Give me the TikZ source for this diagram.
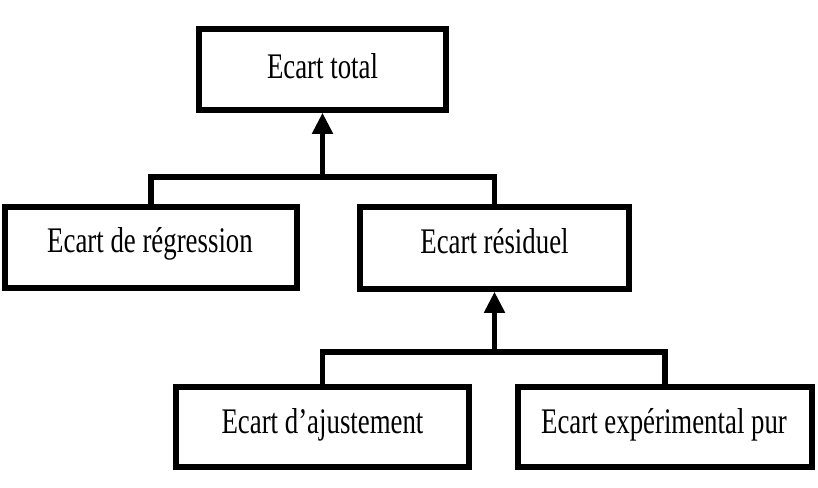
\documentclass[tikz,border=0pt]{standalone}
\usepackage{fontspec}
\setmainfont{Liberation Serif}
\usetikzlibrary{arrows.meta}
\newcommand{\lbltext}[1]{\scalebox{0.745}[1]{\fontsize{27}{30}\selectfont #1}}
\tikzset{
  box/.style={draw=black, line width=4pt, fill=white, inner sep=0pt, rectangle},
  lbl/.style={anchor=base, inner sep=0pt, text=black},
  conn/.style={draw=black, line width=4pt, line join=miter},
  uparrow/.style={conn, -{Triangle[length=16pt,width=15pt]}},
}
\begin{document}
\begin{tikzpicture}[x=0.75pt,y=-0.75pt]
\useasboundingbox (0,0) rectangle (818,488);
% boxes
\node[box, minimum width=185.25pt, minimum height=60.75pt] (tot) at (322.5,69.5) {};
\node[box, minimum width=219pt, minimum height=60.75pt] (reg) at (151,247.5) {};
\node[box, minimum width=201.75pt, minimum height=61.5pt] (res) at (494.5,248) {};
\node[box, minimum width=219.75pt, minimum height=60pt] (aju) at (322.5,427) {};
\node[box, minimum width=220.5pt, minimum height=60pt] (exp) at (665,427) {};
% labels
\node[lbl] (ttot) at (322.5,79) {\lbltext{Ecart total}};
\node[lbl] (treg) at (150,253) {\lbltext{Ecart de régression}};
\node[lbl] (tres) at (494.5,254) {\lbltext{Ecart résiduel}};
\node[lbl] (taju) at (322.5,434) {\lbltext{Ecart d’ajustement}};
\node[lbl] (texp) at (664,434) {\lbltext{Ecart expérimental pur}};
% junctions
\coordinate (j1) at (322.5,177);
\coordinate (j2) at (494.5,352);
% connectors
\draw[conn] (reg.north) |- (j1) -| (res.north);
\draw[uparrow] (j1) -- (tot.south);
\draw[conn] (aju.north) |- (j2) -| (exp.north);
\draw[uparrow] (j2) -- (res.south);
\end{tikzpicture}
\end{document}
